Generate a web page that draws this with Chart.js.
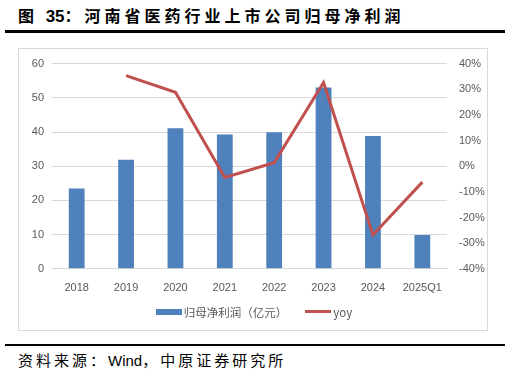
<!DOCTYPE html>
<html><head><meta charset="utf-8">
<script src="https://cdn.jsdelivr.net/npm/chart.js@4/dist/chart.umd.min.js"></script>
<style>
html,body{margin:0;padding:0;background:#fff;width:510px;height:378px;overflow:hidden;font-family:"Noto Sans CJK SC","Liberation Sans",sans-serif;}
#title{position:absolute;left:18px;top:4px;font-size:16px;font-weight:bold;color:#000;white-space:nowrap;line-height:22px;}
#title .cj{letter-spacing:4px;}
#title .n{font-family:"Liberation Sans",Arial,sans-serif;font-size:17px;}
#hr1{position:absolute;left:5px;width:500px;top:30px;height:3px;background:#000;}
#box{position:absolute;left:18px;top:48px;width:470px;height:283px;border:1px solid #d9d9d9;box-sizing:border-box;}
#c{position:absolute;left:0;top:0;}
#hr2{position:absolute;left:5px;width:500px;top:344px;height:2px;background:#000;}
#src{position:absolute;left:18px;top:349px;font-size:15px;color:#000;white-space:nowrap;line-height:22px;}
#src .cj{letter-spacing:3px;}
#src .n{font-family:"Liberation Sans",Arial,sans-serif;}
#legend{position:absolute;top:253px;left:0;width:470px;text-align:center;font-size:11.5px;color:#595959;white-space:nowrap;}
.lg{display:inline-block;vertical-align:middle;}
</style></head>
<body>
<div id="title"><span class="cj">图 </span><span class="n">35</span><span class="cj">：河南省医药行业上市公司归母净利润</span></div>
<div id="hr1"></div>
<div id="box">
<canvas id="c" width="468" height="281"></canvas>
<div id="legend"><span class="lg" style="width:26px;height:6px;background:#4F81BD;margin-right:2px;"></span><span class="lg">归母净利润（亿元）</span><span class="lg" style="width:26px;height:3px;background:#C0504D;margin-left:18px;margin-right:2px;"></span><span class="lg">yoy</span></div>
</div>
<div id="hr2"></div>
<div id="src"><span class="cj">资料来源：</span><span class="n">Wind</span><span class="cj">，中原证券研究所</span></div>
<script>
const categories = ["2018","2019","2020","2021","2022","2023","2024","2025Q1"];
const profit = [23.5, 31.9, 41.1, 39.3, 39.9, 53.0, 38.8, 9.9];
const yoy = [null, 35.3, 28.8, -4.4, 1.4, 32.6, -26.8, -6.2];
const leftTicks = [0,10,20,30,40,50,60];
const rightTicks = [-40,-30,-20,-10,0,10,20,30,40];

const tickFont = {family:"'Liberation Sans', Arial, sans-serif", size:11};
new Chart(document.getElementById('c'), {
  data: {
    labels: categories,
    datasets: [
      {type:'line', label:'yoy', data: yoy, yAxisID:'y1', borderColor:'#C0504D', backgroundColor:'#C0504D', borderWidth:3, pointRadius:0, tension:0, spanGaps:false, order:0},
      {type:'bar', label:'归母净利润（亿元）', data: profit, yAxisID:'y', backgroundColor:'#4F81BD', categoryPercentage:1, barPercentage:0.32, order:1}
    ]
  },
  options: {
    responsive:false, animation:false,
    layout:{padding:{top:10, bottom:30, left:0, right:0}},
    plugins:{legend:{display:false}, tooltip:{enabled:false}},
    scales:{
      x:{grid:{display:false}, border:{display:true,color:'#d9d9d9'}, ticks:{color:'#595959', font:tickFont, padding:5, maxRotation:0}},
      y:{position:'left', min:0, max:60, afterBuildTicks:a=>{a.ticks=leftTicks.map(v=>({value:v}));},
         afterFit:a=>{a.width=33;},
         grid:{color:'#d9d9d9', drawTicks:false}, border:{display:false},
         ticks:{color:'#595959', font:tickFont, padding:8}},
      y1:{position:'right', min:-40, max:40, afterBuildTicks:a=>{a.ticks=rightTicks.map(v=>({value:v}));},
         afterFit:a=>{a.width=40;},
         grid:{display:false}, border:{display:false},
         ticks:{color:'#595959', font:tickFont, padding:4, callback:v=>v+'%'}}
    }
  }
});
</script>
</body></html>
